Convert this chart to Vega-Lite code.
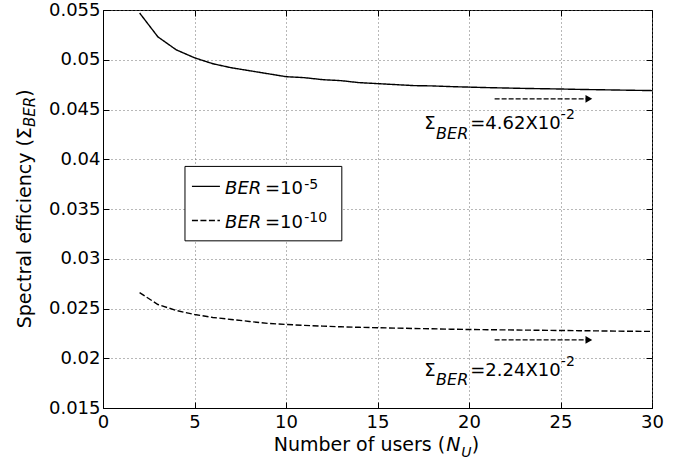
{
  "$schema": "https://vega.github.io/schema/vega-lite/v6.json",
  "width": 549,
  "height": 398,
  "autosize": {"type": "none"},
  "padding": {"left": 103, "top": 10, "right": 38, "bottom": 58},
  "background": "white",
  "config": {"view": {"stroke": "black", "strokeWidth": 1}, "font": "DejaVu Sans"},
  "datasets": {
    "curves": [
      {"N": 2, "SE": 0.0547, "BER": "1e-5"}, {"N": 3, "SE": 0.0523, "BER": "1e-5"}, {"N": 4, "SE": 0.051, "BER": "1e-5"},
      {"N": 5, "SE": 0.0502, "BER": "1e-5"}, {"N": 6, "SE": 0.0496, "BER": "1e-5"}, {"N": 7, "SE": 0.0492, "BER": "1e-5"},
      {"N": 8, "SE": 0.0489, "BER": "1e-5"}, {"N": 9, "SE": 0.0486, "BER": "1e-5"}, {"N": 10, "SE": 0.0483, "BER": "1e-5"},
      {"N": 11, "SE": 0.0482, "BER": "1e-5"}, {"N": 12, "SE": 0.048, "BER": "1e-5"}, {"N": 13, "SE": 0.0479, "BER": "1e-5"},
      {"N": 14, "SE": 0.0477, "BER": "1e-5"}, {"N": 15, "SE": 0.0476, "BER": "1e-5"}, {"N": 16, "SE": 0.0475, "BER": "1e-5"},
      {"N": 17, "SE": 0.0474, "BER": "1e-5"}, {"N": 18, "SE": 0.04737, "BER": "1e-5"}, {"N": 19, "SE": 0.0473, "BER": "1e-5"},
      {"N": 20, "SE": 0.04725, "BER": "1e-5"}, {"N": 21, "SE": 0.0472, "BER": "1e-5"}, {"N": 22, "SE": 0.04716, "BER": "1e-5"},
      {"N": 23, "SE": 0.04712, "BER": "1e-5"}, {"N": 24, "SE": 0.04709, "BER": "1e-5"}, {"N": 25, "SE": 0.04706, "BER": "1e-5"},
      {"N": 26, "SE": 0.04702, "BER": "1e-5"}, {"N": 27, "SE": 0.04699, "BER": "1e-5"}, {"N": 28, "SE": 0.04696, "BER": "1e-5"},
      {"N": 29, "SE": 0.04693, "BER": "1e-5"}, {"N": 30, "SE": 0.0469, "BER": "1e-5"},
      {"N": 2, "SE": 0.0266, "BER": "1e-10"}, {"N": 3, "SE": 0.0254, "BER": "1e-10"}, {"N": 4, "SE": 0.0248, "BER": "1e-10"},
      {"N": 5, "SE": 0.0244, "BER": "1e-10"}, {"N": 6, "SE": 0.0241, "BER": "1e-10"}, {"N": 7, "SE": 0.0239, "BER": "1e-10"},
      {"N": 8, "SE": 0.0237, "BER": "1e-10"}, {"N": 9, "SE": 0.0235, "BER": "1e-10"}, {"N": 10, "SE": 0.0234, "BER": "1e-10"},
      {"N": 11, "SE": 0.0233, "BER": "1e-10"}, {"N": 12, "SE": 0.02323, "BER": "1e-10"}, {"N": 13, "SE": 0.02316, "BER": "1e-10"},
      {"N": 14, "SE": 0.02311, "BER": "1e-10"}, {"N": 15, "SE": 0.02307, "BER": "1e-10"}, {"N": 16, "SE": 0.02303, "BER": "1e-10"},
      {"N": 17, "SE": 0.02299, "BER": "1e-10"}, {"N": 18, "SE": 0.02296, "BER": "1e-10"}, {"N": 19, "SE": 0.02292, "BER": "1e-10"},
      {"N": 20, "SE": 0.02289, "BER": "1e-10"}, {"N": 21, "SE": 0.02287, "BER": "1e-10"}, {"N": 22, "SE": 0.02285, "BER": "1e-10"},
      {"N": 23, "SE": 0.02283, "BER": "1e-10"}, {"N": 24, "SE": 0.02281, "BER": "1e-10"}, {"N": 25, "SE": 0.02279, "BER": "1e-10"},
      {"N": 26, "SE": 0.02277, "BER": "1e-10"}, {"N": 27, "SE": 0.02275, "BER": "1e-10"}, {"N": 28, "SE": 0.02273, "BER": "1e-10"},
      {"N": 29, "SE": 0.02271, "BER": "1e-10"}, {"N": 30, "SE": 0.0227, "BER": "1e-10"}
    ],
    "legendBox": [{"x1": 4.48, "x2": 13.05, "y1": 0.03928, "y2": 0.0318}],
    "legendLines": [
      {"x1": 4.86, "x2": 6.39, "y": 0.03727, "BER": "1e-5"},
      {"x1": 4.86, "x2": 6.39, "y": 0.03385, "BER": "1e-10"}
    ],
    "arrows": [
      {"x1": 21.4, "x2": 26.4, "y": 0.04607},
      {"x1": 21.4, "x2": 26.4, "y": 0.02184}
    ],
    "heads": [
      {"x": 26.55, "y": 0.04607},
      {"x": 26.55, "y": 0.02184}
    ],
    "txtRegular": [
      {"x": 17.56, "y": 0.043, "t": "Σ"}, {"x": 20.07, "y": 0.043, "t": "=4.62X10"},
      {"x": 17.56, "y": 0.01826, "t": "Σ"}, {"x": 20.07, "y": 0.01826, "t": "=2.24X10"},
      {"x": 8.85, "y": 0.03646, "t": "=10"}, {"x": 8.85, "y": 0.03305, "t": "=10"}
    ],
    "txtItalic": [
      {"x": 6.67, "y": 0.03646, "t": "BER"}, {"x": 6.67, "y": 0.03305, "t": "BER"}
    ],
    "txtSub": [
      {"x": 18.2, "y": 0.042, "t": "BER"}, {"x": 18.2, "y": 0.01727, "t": "BER"}
    ],
    "txtSup": [
      {"x": 25.02, "y": 0.044, "t": "-2"}, {"x": 25.02, "y": 0.01924, "t": "-2"},
      {"x": 11.0, "y": 0.03706, "t": "-5"}, {"x": 11.0, "y": 0.03365, "t": "-10"}
    ],
    "xTitleMain": [{"x": 18.7, "y": 0.01068, "t": "Number of users ("}],
    "xTitleClose": [{"x": 20.15, "y": 0.01068, "t": ")"}],
    "xTitleItalic": [{"x": 18.75, "y": 0.01068, "t": "N"}],
    "xTitleSub": [{"x": 19.58, "y": 0.01008, "t": "U"}],
    "rotMainRight": [{"x": -3.93, "y": 0.04202, "t": "Spectral efficiency ("}],
    "rotMainLeft": [{"x": -3.93, "y": 0.04202, "t": "Σ"}, {"x": -3.93, "y": 0.04627, "t": ")"}],
    "rotSub": [{"x": -3.69, "y": 0.04323, "t": "BER"}]
  },
  "layer": [
    {
      "data": {"name": "curves"},
      "mark": {"type": "line", "color": "black", "strokeWidth": 1.4},
      "encoding": {
        "x": {"field": "N", "type": "quantitative",
          "scale": {"domain": [0, 30], "nice": false, "zero": false},
          "axis": {"values": [0, 5, 10, 15, 20, 25, 30], "grid": true, "gridDash": [1, 3], "gridColor": "#707070",
            "tickSize": -6, "tickColor": "black", "domainColor": "black", "labelFont": "DejaVu Sans",
            "labelFontSize": 18, "labelColor": "black", "labelPadding": 11, "labelFlush": false, "labelOverlap": false, "title": null}},
        "y": {"field": "SE", "type": "quantitative",
          "scale": {"domain": [0.015, 0.055], "nice": false, "zero": false},
          "axis": {"values": [0.015, 0.02, 0.025, 0.03, 0.035, 0.04, 0.045, 0.05, 0.055], "format": ".3~f",
            "grid": true, "gridDash": [1, 3], "gridColor": "#707070",
            "tickSize": -6, "tickColor": "black", "domainColor": "black", "labelFont": "DejaVu Sans",
            "labelFontSize": 18, "labelColor": "black", "labelPadding": 9, "labelFlush": false, "labelOverlap": false, "title": null}},
        "strokeDash": {"field": "BER", "type": "nominal",
          "scale": {"domain": ["1e-5", "1e-10"], "range": [[1, 0], [6, 2.5]]}, "legend": null}
      }
    },
    {
      "data": {"name": "legendBox"},
      "mark": {"type": "rect", "fill": "white", "stroke": "black", "strokeWidth": 1},
      "encoding": {
        "x": {"field": "x1", "type": "quantitative",
          "axis": {"orient": "top", "values": [0, 5, 10, 15, 20, 25, 30], "labels": false, "grid": false, "domain": false,
            "tickSize": -6, "tickColor": "black", "title": null}},
        "x2": {"field": "x2"},
        "y": {"field": "y1", "type": "quantitative",
          "axis": {"orient": "right", "values": [0.015, 0.02, 0.025, 0.03, 0.035, 0.04, 0.045, 0.05, 0.055], "labels": false, "grid": false, "domain": false,
            "tickSize": -6, "tickColor": "black", "title": null}},
        "y2": {"field": "y2"}
      }
    },
    {
      "data": {"name": "legendLines"},
      "mark": {"type": "rule", "color": "black", "strokeWidth": 1.4},
      "encoding": {
        "x": {"field": "x1", "type": "quantitative", "axis": null},
        "x2": {"field": "x2"},
        "y": {"field": "y", "type": "quantitative", "axis": null},
        "strokeDash": {"field": "BER", "type": "nominal", "legend": null}
      }
    },
    {
      "data": {"name": "arrows"},
      "mark": {"type": "rule", "color": "black", "strokeWidth": 1.2, "strokeDash": [5, 2]},
      "encoding": {
        "x": {"field": "x1", "type": "quantitative", "axis": null},
        "x2": {"field": "x2"},
        "y": {"field": "y", "type": "quantitative", "axis": null}
      }
    },
    {
      "data": {"name": "heads"},
      "mark": {"type": "point", "shape": "triangle-right", "filled": true, "color": "black", "size": 60, "opacity": 1},
      "encoding": {
        "x": {"field": "x", "type": "quantitative", "axis": null},
        "y": {"field": "y", "type": "quantitative", "axis": null}
      }
    },
    {
      "data": {"name": "txtRegular"},
      "mark": {"type": "text", "align": "left", "baseline": "alphabetic", "font": "DejaVu Sans", "fontSize": 18, "color": "black"},
      "encoding": {
        "x": {"field": "x", "type": "quantitative", "axis": null},
        "y": {"field": "y", "type": "quantitative", "axis": null},
        "text": {"field": "t"}
      }
    },
    {
      "data": {"name": "txtItalic"},
      "mark": {"type": "text", "align": "left", "baseline": "alphabetic", "font": "DejaVu Sans", "fontSize": 18, "fontStyle": "italic", "color": "black"},
      "encoding": {
        "x": {"field": "x", "type": "quantitative", "axis": null},
        "y": {"field": "y", "type": "quantitative", "axis": null},
        "text": {"field": "t"}
      }
    },
    {
      "data": {"name": "txtSub"},
      "mark": {"type": "text", "align": "left", "baseline": "alphabetic", "font": "DejaVu Sans", "fontSize": 16, "fontStyle": "italic", "color": "black"},
      "encoding": {
        "x": {"field": "x", "type": "quantitative", "axis": null},
        "y": {"field": "y", "type": "quantitative", "axis": null},
        "text": {"field": "t"}
      }
    },
    {
      "data": {"name": "txtSup"},
      "mark": {"type": "text", "align": "left", "baseline": "alphabetic", "font": "DejaVu Sans", "fontSize": 14, "color": "black"},
      "encoding": {
        "x": {"field": "x", "type": "quantitative", "axis": null},
        "y": {"field": "y", "type": "quantitative", "axis": null},
        "text": {"field": "t"}
      }
    },
    {
      "data": {"name": "xTitleMain"},
      "mark": {"type": "text", "align": "right", "baseline": "alphabetic", "font": "DejaVu Sans", "fontSize": 19, "color": "black"},
      "encoding": {
        "x": {"field": "x", "type": "quantitative", "axis": null},
        "y": {"field": "y", "type": "quantitative", "axis": null},
        "text": {"field": "t"}
      }
    },
    {
      "data": {"name": "xTitleClose"},
      "mark": {"type": "text", "align": "left", "baseline": "alphabetic", "font": "DejaVu Sans", "fontSize": 19, "color": "black"},
      "encoding": {
        "x": {"field": "x", "type": "quantitative", "axis": null},
        "y": {"field": "y", "type": "quantitative", "axis": null},
        "text": {"field": "t"}
      }
    },
    {
      "data": {"name": "xTitleItalic"},
      "mark": {"type": "text", "align": "left", "baseline": "alphabetic", "font": "DejaVu Sans", "fontSize": 19, "fontStyle": "italic", "color": "black"},
      "encoding": {
        "x": {"field": "x", "type": "quantitative", "axis": null},
        "y": {"field": "y", "type": "quantitative", "axis": null},
        "text": {"field": "t"}
      }
    },
    {
      "data": {"name": "xTitleSub"},
      "mark": {"type": "text", "align": "left", "baseline": "alphabetic", "font": "DejaVu Sans", "fontSize": 14, "fontStyle": "italic", "color": "black"},
      "encoding": {
        "x": {"field": "x", "type": "quantitative", "axis": null},
        "y": {"field": "y", "type": "quantitative", "axis": null},
        "text": {"field": "t"}
      }
    },
    {
      "data": {"name": "rotMainRight"},
      "mark": {"type": "text", "angle": 270, "align": "right", "baseline": "alphabetic", "font": "DejaVu Sans", "fontSize": 19, "color": "black"},
      "encoding": {
        "x": {"field": "x", "type": "quantitative", "axis": null},
        "y": {"field": "y", "type": "quantitative", "axis": null},
        "text": {"field": "t"}
      }
    },
    {
      "data": {"name": "rotMainLeft"},
      "mark": {"type": "text", "angle": 270, "align": "left", "baseline": "alphabetic", "font": "DejaVu Sans", "fontSize": 19, "color": "black"},
      "encoding": {
        "x": {"field": "x", "type": "quantitative", "axis": null},
        "y": {"field": "y", "type": "quantitative", "axis": null},
        "text": {"field": "t"}
      }
    },
    {
      "data": {"name": "rotSub"},
      "mark": {"type": "text", "angle": 270, "align": "left", "baseline": "alphabetic", "font": "DejaVu Sans", "fontSize": 15, "fontStyle": "italic", "color": "black"},
      "encoding": {
        "x": {"field": "x", "type": "quantitative", "axis": null},
        "y": {"field": "y", "type": "quantitative", "axis": null},
        "text": {"field": "t"}
      }
    }
  ],
  "resolve": {"axis": {"x": "independent", "y": "independent"}}
}
